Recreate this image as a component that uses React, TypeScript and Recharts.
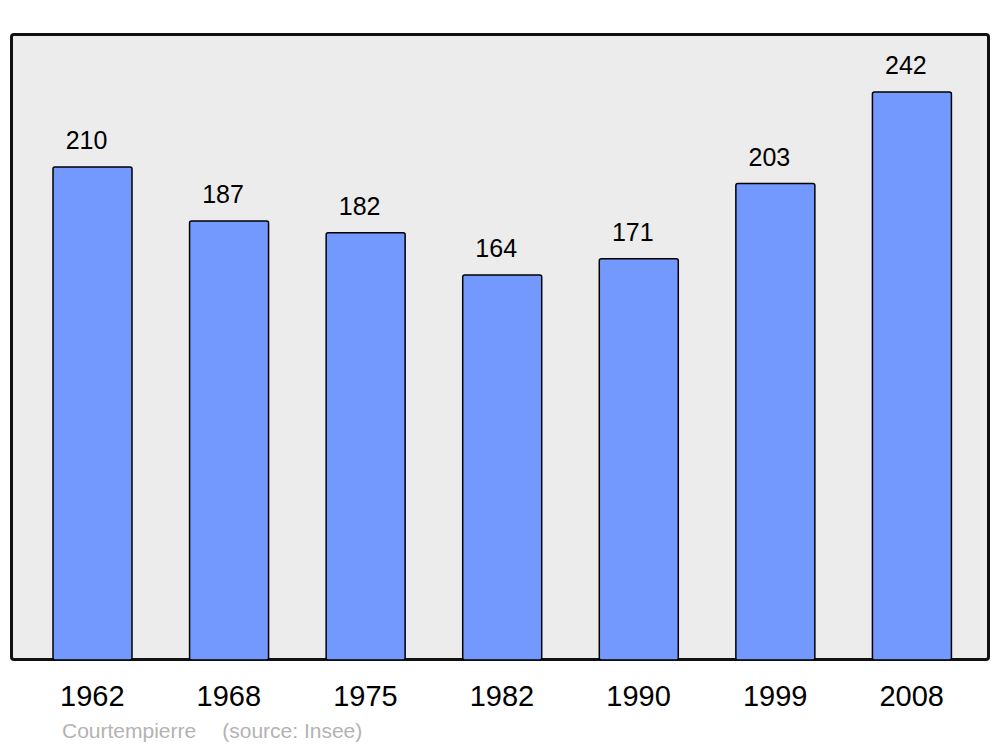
import React from "react";
import { BarChart, Bar, XAxis, YAxis, LabelList } from "recharts";

const years = ["1962", "1968", "1975", "1982", "1990", "1999", "2008"];
const population = [210, 187, 182, 164, 171, 203, 242];
const yMax = 266.7;
const footerTown = "Courtempierre";
const footerSource = "(source: Insee)";

const data = years.map((y, i) => ({ year: y, value: population[i] }));

const FONT = "'Liberation Sans', Arial, sans-serif";

export default function App() {
  return (
    <div style={{ position: "absolute", left: 0, top: 0, width: 1000, height: 747, background: "#fff", fontFamily: FONT }}>
      <div
        style={{
          position: "absolute",
          left: 10,
          top: 33,
          width: 980,
          height: 628,
          boxSizing: "border-box",
          border: "3px solid #111",
          borderRadius: 4,
          background: "#ececec",
        }}
      />
      <div style={{ position: "absolute", left: 0, top: 0 }}>
        <BarChart
          width={1000}
          height={747}
          data={data}
          margin={{ top: 34, right: 11, bottom: 86, left: 11 }}
        >
          <YAxis hide domain={[0, yMax]} allowDataOverflow />
          <XAxis
            dataKey="year"
            height={1}
            axisLine={false}
            tickLine={false}
            tickSize={0}
            tickMargin={25}
            padding={{ left: 13, right: 9 }}
            tick={{ fontSize: 29, fill: "#000", fontFamily: FONT }}
            interval={0}
          />
          <Bar
            dataKey="value"
            fill="#7399ff"
            stroke="#000"
            strokeWidth={1.5}
            radius={2}
            barSize={79}
            isAnimationActive={false}
          >
            <LabelList dataKey="value" position="top" offset={18} dx={-6} fill="#000" fontSize={25} fontFamily={FONT} />
          </Bar>
        </BarChart>
      </div>
      <div
        style={{
          position: "absolute",
          left: 62,
          top: 719,
          fontSize: 21,
          color: "#b3b3b3",
          whiteSpace: "pre",
          fontFamily: FONT,
        }}
      >
        <span>{footerTown}</span>
        <span style={{ marginLeft: 26 }}>{footerSource}</span>
      </div>
    </div>
  );
}
